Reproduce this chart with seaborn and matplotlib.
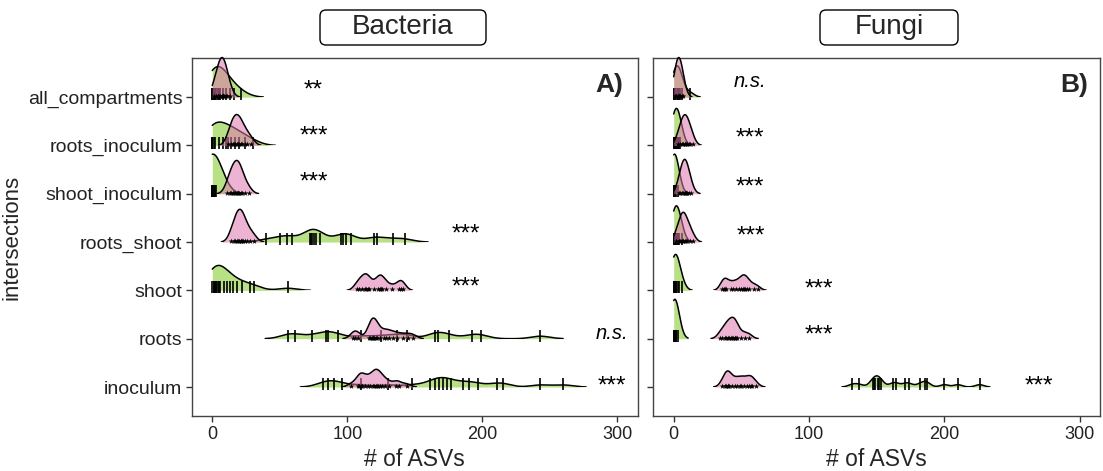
import numpy as np
import pandas as pd
import seaborn as sns
import matplotlib.pyplot as plt
from matplotlib.patches import FancyBboxPatch
from matplotlib.transforms import IdentityTransform

sns.set_theme(style="white")
plt.rcParams['font.family'] = ['Liberation Sans', 'DejaVu Sans']

# ---------------- data ----------------
# categories, bottom to top
intersections = ["inoculum", "roots", "shoot", "roots_shoot",
                 "shoot_inoculum", "roots_inoculum", "all_compartments"]
panels = ["Bacteria", "Fungi"]
panel_tags = ["A)", "B)"]
x_ticks = [0, 100, 200, 300]

# Bacteria - green group (rug "|")
bac_green_inoculum = [82, 86, 90, 96, 110, 130, 148, 161, 165, 168, 171, 174, 177,
                      186, 190, 197, 211, 215, 243, 260]
bac_green_roots = [56, 61, 74, 84, 86, 93, 110, 125, 137, 144, 165, 167, 175, 192, 199, 243]
bac_green_shoot = [0, 1, 1, 2, 2, 3, 3, 4, 5, 6, 9, 11, 13, 15, 18, 22, 28, 31, 56]
bac_green_roots_shoot = [40, 50, 55, 59, 72, 73, 74, 75, 77, 80, 95, 97, 99, 103,
                         120, 122, 134, 143]
bac_green_shoot_inoculum = [0, 0, 0, 0, 0, 0, 0, 0, 1, 1, 2, 3]
bac_green_roots_inoculum = [0, 0, 0, 1, 2, 5, 8, 10, 12, 14, 17, 20, 24, 30]
bac_green_all_compartments = [0, 0, 1, 1, 2, 3, 4, 5, 6, 8, 10, 13, 16, 21]

# Bacteria - pink group (rug "*")
bac_pink_inoculum = [103, 108, 109, 110, 111, 113, 115, 117, 119, 120, 121, 122, 123,
                     124, 126, 128, 131, 136, 138, 144]
bac_pink_roots = [104, 106, 108, 116, 117, 118, 119, 119, 120, 121, 122, 124, 127,
                  129, 131, 134, 137, 141, 145, 149]
bac_pink_shoot = [107, 109, 111, 113, 114, 115, 116, 120, 123, 124, 125, 126, 129,
                  133, 138, 140, 141]
bac_pink_roots_shoot = [14, 16, 17, 18, 19, 20, 21, 21, 22, 23, 24, 26, 28, 31]
bac_pink_shoot_inoculum = [11, 13, 14, 15, 16, 17, 18, 19, 19, 20, 21, 22, 24, 27]
bac_pink_roots_inoculum = [12, 14, 15, 16, 17, 18, 19, 20, 21, 22, 24, 26, 29]
bac_pink_all_compartments = [1, 3, 4, 5, 6, 7, 7, 8, 8, 9, 10, 11, 13]

# Fungi - green group
fun_green_inoculum = [132, 137, 147, 148, 149, 151, 152, 153, 162, 164, 171, 174,
                      182, 186, 187, 200, 210, 226]
fun_green_roots = [0, 0, 0, 0, 0, 1, 1, 2, 2, 3]
fun_green_shoot = [0, 0, 0, 0, 1, 1, 2, 2, 3, 4, 6]
fun_green_roots_shoot = [0, 0, 1, 1, 2, 2, 3, 3, 4, 6]
fun_green_shoot_inoculum = [0, 0, 0, 0, 0, 0, 1, 1, 2, 3]
fun_green_roots_inoculum = [0, 0, 1, 1, 2, 2, 3, 3, 4, 5]
fun_green_all_compartments = [0, 0, 1, 2, 3, 3, 4, 5, 6, 12]

# Fungi - pink group
fun_pink_inoculum = [36, 38, 39, 40, 40, 41, 43, 45, 47, 49, 50, 52, 54, 56, 57, 58, 61]
fun_pink_roots = [34, 36, 38, 39, 40, 41, 42, 43, 44, 45, 45, 46, 47, 50, 53, 56]
fun_pink_shoot = [36, 37, 38, 39, 42, 44, 46, 48, 50, 51, 52, 53, 54, 56, 59, 62]
fun_pink_roots_shoot = [2, 4, 5, 6, 7, 7, 8, 9, 10, 12, 14]
fun_pink_shoot_inoculum = [4, 5, 6, 7, 8, 8, 9, 9, 10, 11, 13]
fun_pink_roots_inoculum = [3, 5, 6, 7, 8, 8, 9, 10, 11, 12, 14]
fun_pink_all_compartments = [1, 2, 2, 3, 3, 4, 4, 5, 5, 6, 7]

# significance labels (bottom to top) and their x positions
bac_sig = ["***", "n.s.", "***", "***", "***", "***", "**"]
bac_sig_x = [296, 296, 188, 188, 75, 75, 75]
fun_sig = ["***", "***", "***", "***", "***", "***", "n.s."]
fun_sig_x = [270, 107, 107, 57, 56, 56, 56]

green_sets = {
    "Bacteria": [bac_green_inoculum, bac_green_roots, bac_green_shoot, bac_green_roots_shoot,
                 bac_green_shoot_inoculum, bac_green_roots_inoculum, bac_green_all_compartments],
    "Fungi": [fun_green_inoculum, fun_green_roots, fun_green_shoot, fun_green_roots_shoot,
              fun_green_shoot_inoculum, fun_green_roots_inoculum, fun_green_all_compartments],
}
pink_sets = {
    "Bacteria": [bac_pink_inoculum, bac_pink_roots, bac_pink_shoot, bac_pink_roots_shoot,
                 bac_pink_shoot_inoculum, bac_pink_roots_inoculum, bac_pink_all_compartments],
    "Fungi": [fun_pink_inoculum, fun_pink_roots, fun_pink_shoot, fun_pink_roots_shoot,
              fun_pink_shoot_inoculum, fun_pink_roots_inoculum, fun_pink_all_compartments],
}
sig_labels = {"Bacteria": (bac_sig, bac_sig_x), "Fungi": (fun_sig, fun_sig_x)}

records = []
for p in panels:
    for name, g, k in zip(intersections, green_sets[p], pink_sets[p]):
        records += [(p, name, "green", v) for v in g]
        records += [(p, name, "pink", v) for v in k]
df = pd.DataFrame(records, columns=["panel", "intersection", "group", "asvs"])

# ---------------- style / layout ----------------
GREEN = "#b8e186"
PINK = "#de77ae"
BW = {("Bacteria", "green"): 7.0, ("Bacteria", "pink"): 3.0,
      ("Fungi", "green"): 3.2, ("Fungi", "pink"): 2.7}
CUT = 2.4
PEAK = 0.82                   # tallest ridge of each layer, in row units

W, H = 1103.0, 471.0
TOP, BOT = 58.0, 416.0
YLO, YHI = 0.4, 7.81
UNIT = (BOT - TOP) / (YHI - YLO)
panel_bounds = [(192.0, 637.7), (653.4, 1100.0)]
strip_boxes = [(403, 166), (889, 138)]      # centre x, width (px)
tag_x = [0.967, 0.973]
sig_dy = {"Bacteria": [-0.12, 0.0, -0.06, 0.03, 0.11, 0.06, 0.02],
          "Fungi": [-0.12, -0.05, -0.11, 0.0, 0.0, 0.02, 0.2]}
layers = [("green", GREEN, 1.0), ("pink", PINK, 0.55)]

fig = plt.figure(figsize=(W / 100, H / 100), dpi=100)
fig.patch.set_facecolor("white")

for pi, p in enumerate(panels):
    L, R = panel_bounds[pi]
    ax = fig.add_axes([L / W, 1 - BOT / H, (R - L) / W, (BOT - TOP) / H])
    ax.set_facecolor("white")
    sub = df[df["panel"] == p]
    layer_axes = {"green": [], "pink": []}
    for i, name in enumerate(intersections):
        ypos = i + 1
        base_px = BOT - (ypos - YLO) * UNIT
        for grp, col, alpha in layers:
            rax = fig.add_axes([L / W, 1 - base_px / H, (R - L) / W, UNIT / H], sharex=ax)
            rax.set_axis_off()
            vals = sub[(sub["intersection"] == name) & (sub["group"] == grp)]["asvs"].to_numpy(float)
            fac = BW[(p, grp)] / np.std(vals, ddof=1)
            sns.kdeplot(x=vals, ax=rax, fill=True, color=col, alpha=alpha, linewidth=0,
                        bw_method=fac, cut=CUT, clip=(0, 315), zorder=1)
            sns.kdeplot(x=vals, ax=rax, color="black", linewidth=1.1,
                        bw_method=fac, cut=CUT, clip=(0, 315), zorder=2)
            if grp == "green":
                rax.scatter(vals, np.full(len(vals), 0.06), transform=rax.get_xaxis_transform(),
                            marker="|", s=85, color="black", linewidths=1.2, zorder=3,
                            clip_on=False)
            else:
                rax.scatter(vals, np.full(len(vals), 0.02), transform=rax.get_xaxis_transform(),
                            marker="*", s=18, color="black", linewidths=0, zorder=3,
                            clip_on=False)
            layer_axes[grp].append(rax)
    for grp in layer_axes:
        dmax = max(ln.get_ydata().max() for r in layer_axes[grp] for ln in r.lines)
        for r in layer_axes[grp]:
            r.set_ylim(0, dmax / PEAK)

    # significance labels
    labs, xs = sig_labels[p]
    for i, (lab, xv) in enumerate(zip(labs, xs)):
        italic = lab == "n.s."
        ax.text(xv, i + 1 + sig_dy[p][i], lab, ha="center", va="baseline",
                fontsize=14.5 if italic else 17.5, style="italic" if italic else "normal",
                color="black", zorder=10)

    ax.set_xlim(-15, 315)
    ax.set_ylim(YLO, YHI)
    ax.set_xticks(x_ticks)
    ax.set_xticklabels([str(t) for t in x_ticks], fontsize=13, color="#222222")
    ax.set_yticks(range(1, len(intersections) + 1))
    if pi == 0:
        ax.set_yticklabels(intersections, fontsize=14, color="#222222")
        ax.set_ylabel("intersections", fontsize=16, labelpad=4)
    else:
        ax.set_yticklabels([])
        ax.set_ylabel("")
    ax.set_xlabel("# of ASVs", fontsize=16.5, labelpad=4)
    ax.tick_params(axis="both", which="both", length=4, width=1, color="#333333",
                   direction="out", bottom=True, left=True, pad=3)
    for s in ax.spines.values():
        s.set_visible(True)
        s.set_color("#444444")
        s.set_linewidth(1.0)

    ax.text(tag_x[pi], 0.905, panel_tags[pi], transform=ax.transAxes, ha="right",
            va="baseline", fontsize=19, fontweight="bold", zorder=10)

    # strip title box
    cx, bw_px = strip_boxes[pi]
    box = FancyBboxPatch((cx - bw_px / 2, H - 45), bw_px, 35,
                         boxstyle="round,pad=0,rounding_size=6",
                         transform=IdentityTransform(), facecolor="white",
                         edgecolor="black", linewidth=1.0)
    fig.add_artist(box)
    fig.text(cx / W, 1 - 27.5 / H, p, ha="center", va="center", fontsize=20)

fig.savefig("out.png", dpi=100, facecolor="white")
